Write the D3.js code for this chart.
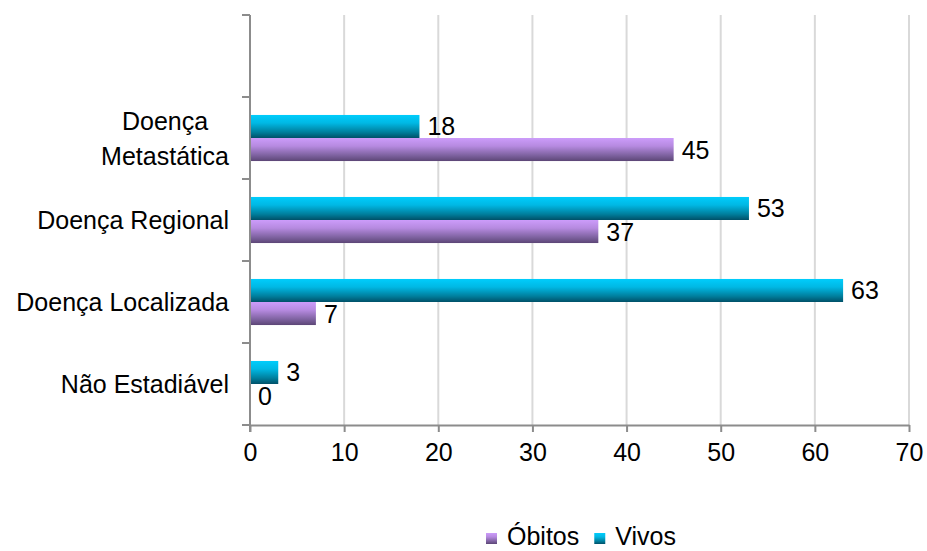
<!DOCTYPE html>
<html>
<head>
<meta charset="utf-8">
<script src="https://cdn.jsdelivr.net/npm/d3@7"></script>
<style>
  html, body { margin: 0; padding: 0; background: #fff; }
  svg { display: block; font-family: "Liberation Sans", Arial, Helvetica, sans-serif; }
</style>
</head>
<body>
<svg id="chart" width="927" height="551"></svg>
<script>
// Categories, top to bottom (the first band is left empty)
const categories = ["", "Doença Metastática", "Doença Regional", "Doença Localizada", "Não Estadiável"];
const categoryLines = [[], ["Doença", "Metastática"], ["Doença Regional"], ["Doença Localizada"], ["Não Estadiável"]];
const seriesNames = ["Vivos", "Óbitos"];
const vivos  = [null, 18, 53, 63, 3];
const obitos = [null, 45, 37, 7, 0];
const xTicks = [0, 10, 20, 30, 40, 50, 60, 70];
const legendOrder = ["Óbitos", "Vivos"];

const W = 927, H = 551;
const margin = { left: 250, right: 18, top: 15, bottom: 126 };
const svg = d3.select("#chart");

const x = d3.scaleLinear().domain([0, 70]).range([margin.left, W - margin.right]);
const y = d3.scaleBand().domain(categories).range([margin.top, H - margin.bottom]).paddingInner(0).paddingOuter(0);
const inner = d3.scaleBand().domain(seriesNames).range([0, y.bandwidth()]).paddingOuter(0.78).paddingInner(0);

// Gradients for bars
const defs = svg.append("defs");
function grad(id, stops) {
  const g = defs.append("linearGradient").attr("id", id).attr("x1", 0).attr("y1", 0).attr("x2", 0).attr("y2", 1);
  stops.forEach(([o, c]) => g.append("stop").attr("offset", o).attr("stop-color", c));
}
grad("gVivos", [[0, "#00cdfc"], [0.35, "#00b8e4"], [0.75, "#007e9c"], [1, "#005068"]]);
grad("gObitos", [[0, "#cc9cfa"], [0.35, "#b68ae0"], [0.75, "#7e62a0"], [1, "#5c4676"]]);
const fills = { "Vivos": "url(#gVivos)", "Óbitos": "url(#gObitos)" };

const fontSize = 25;
const textColor = "#000";

// Vertical gridlines
svg.append("g")
  .selectAll("line")
  .data(xTicks.slice(1))
  .join("line")
  .attr("x1", d => x(d)).attr("x2", d => x(d))
  .attr("y1", margin.top).attr("y2", H - margin.bottom)
  .attr("stroke", "#d9d9d9").attr("stroke-width", 2);

// Bars
const rows = categories.map((c, i) => ({ cat: c, Vivos: vivos[i], "Óbitos": obitos[i] }))
  .filter(r => r.Vivos !== null);
const barData = [];
rows.forEach(r => seriesNames.forEach(s => barData.push({ cat: r.cat, series: s, value: r[s] })));

svg.append("g")
  .selectAll("rect")
  .data(barData)
  .join("rect")
  .attr("x", x(0))
  .attr("y", d => y(d.cat) + inner(d.series))
  .attr("width", d => x(d.value) - x(0))
  .attr("height", inner.bandwidth())
  .attr("fill", d => fills[d.series]);

// Value labels
svg.append("g")
  .selectAll("text")
  .data(barData)
  .join("text")
  .attr("x", d => x(d.value) + 8)
  .attr("y", d => y(d.cat) + inner(d.series) + inner.bandwidth() / 2)
  .attr("dy", "0.36em")
  .attr("font-size", fontSize)
  .attr("fill", textColor)
  .text(d => d.value);

// X axis
const xAxis = svg.append("g")
  .attr("transform", `translate(0,${H - margin.bottom})`)
  .call(d3.axisBottom(x).tickValues(xTicks).tickSize(7).tickPadding(11).tickSizeOuter(0));
xAxis.select(".domain").attr("stroke", "#8c8c8c").attr("stroke-width", 2);
xAxis.selectAll(".tick line").attr("stroke", "#8c8c8c").attr("stroke-width", 2);
xAxis.selectAll(".tick text").attr("font-size", fontSize).attr("fill", textColor)
  .attr("font-family", "Liberation Sans, Arial, sans-serif");

// Y axis line with ticks at band boundaries
const yAxisG = svg.append("g");
yAxisG.append("line")
  .attr("x1", x(0)).attr("x2", x(0))
  .attr("y1", margin.top).attr("y2", H - margin.bottom + 7)
  .attr("stroke", "#8c8c8c").attr("stroke-width", 2);
const bounds = categories.map(c => y(c)).concat([y.range()[1]]);
yAxisG.selectAll("line.tk")
  .data(bounds)
  .join("line").attr("class", "tk")
  .attr("x1", x(0) - 8).attr("x2", x(0))
  .attr("y1", d => d).attr("y2", d => d)
  .attr("stroke", "#8c8c8c").attr("stroke-width", 2);

// Category labels (multi-line labels centered on each other, block right-aligned)
const lh = 35;
categories.forEach((c, i) => {
  const lines = categoryLines[i];
  if (!lines.length) return;
  const cy = y(c) + y.bandwidth() / 2;
  const t = svg.append("text")
    .attr("font-size", fontSize).attr("fill", textColor).attr("text-anchor", "middle");
  lines.forEach((ln, k) => {
    t.append("tspan").attr("x", 0)
      .attr("y", cy + (k - (lines.length - 1) / 2) * lh)
      .attr("dy", "0.36em").text(ln);
  });
  const bw = t.node().getBBox().width;
  t.attr("transform", `translate(${x(0) - 21 - bw / 2},0)`);
});

// Legend
const legend = svg.append("g");
let lx = 486;
const ly = 532;
legendOrder.forEach(name => {
  legend.append("rect").attr("x", lx).attr("y", ly + 1).attr("width", 11).attr("height", 11)
    .attr("fill", fills[name]);
  const t = legend.append("text").attr("x", lx + 21).attr("y", ly + 4).attr("dy", "0.36em")
    .attr("font-size", fontSize).attr("fill", textColor).text(name);
  lx += 21 + t.node().getComputedTextLength() + 15;
});
</script>
</body>
</html>
